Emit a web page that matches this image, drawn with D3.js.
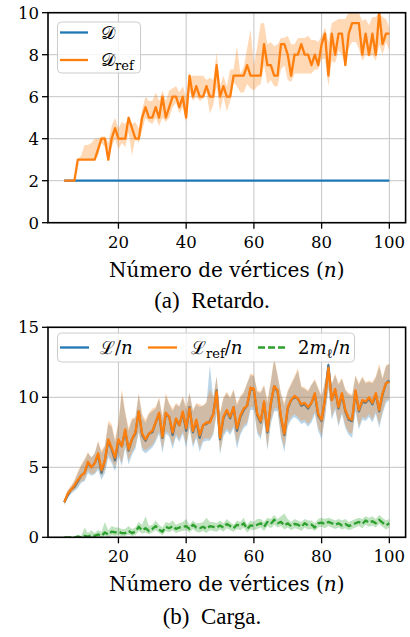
<!DOCTYPE html>
<html>
<head>
<meta charset="utf-8">
<script src="https://cdn.jsdelivr.net/npm/d3@7"></script>
<style>
body { margin: 0; background: #fff; }
text { fill: #000; }
.tick-label { font-family: "DejaVu Serif", serif; font-size: 16.5px; }
.axis-title { font-family: "DejaVu Serif", serif; font-size: 20px; }
.caption { font-family: "Liberation Serif", "Times New Roman", serif; font-size: 23px; }
.leg { font-family: "DejaVu Serif", serif; font-size: 18px; }
</style>
</head>
<body>
<script>
// number of vertices (x axis)
var vertices = d3.range(4, 101);

// (a) Retardo: D is flat, D_ref mean and its band
var delayD = 2;
var delayRef = [2,2,2,2,3,3,3,3,3,3, 3.5,4,4,3,4,4.5,4,4,4,5, 4.5,4,4,5,5.5,5,5,5.5,5,6,
  5,5.5,6,6,5.5,6,5,7,6,6.5, 6,6,6.5,6,6,7.5,6,6.5,6,6, 7,7,7,7,7.5,7,7,7,7,8.5,
  7.5,7.5,7,7,8.5,8.5,8,7,8,8, 8.5,8,8,7.5,8,7.5,8.5,9,7,9, 8,9,9,7.5,9,9.5,9.5,9.5,8,9,
  8,9,8,10,8.5,9,9];
var delayRefLo = [2,2,2,2,3,3,3,3,3,3, 3.2,3.8,3.6,3,3.6,4,3.5,3.8,3.6,4.3, 3.2,4,3.8,4.4,5,4.8,4.7,5,4.6,5,
  4.8,5,5.5,5.7,5.2,5.5,4.8,6.3,5.8,6, 5.8,5.9,6.2,5.2,5.6,6.5,5.3,6,5.3,5.8, 6.7,6.5,6.2,6.2,6.6,6.4,6.3,6.5,6.6,7.5,
  6.6,6.8,6.5,6.5,7.3,7.5,6.8,6.7,7.1,7.1, 7.1,7.1,7.1,7.1,7.3,7.3,7.8,7.8,6.5,7.7, 7.6,8.2,8,7.5,8.3,8.6,8.6,8.3,7.7,8,
  7.9,8,7.7,8.5,8,8.6,8.2];
var delayRefHi = [2,2,2,2,3,3.2,3.7,3.7,3.8,4, 4,4.1,4.1,3.8,4.6,5,4.5,4.8,4.7,5, 4.7,4.8,4.5,5.4,6,5.8,5.8,6.2,5.8,6.3,
  5.8,6.3,6.4,6.5,6.2,6.5,6,7,7,7, 7,7,6.8,6.9,6.8,8.1,6.5,7,6.5,7.3, 7.3,8.4,7.1,7.4,8.3,9.2,7.5,8.4,9.5,9.5,
  8.5,8.6,8.4,8.5,8.8,8.8,8.9,8.5,8.5,8.8, 8.8,8.8,8.9,8.7,8.7,8.6,8.9,9.3,8.6,9.5, 9.6,9.7,9.7,9.7,10,10,10,10,9.6,9.7,
  9.4,9.8,9.8,10,9.8,9.7,9.3];

// (b) Carga: L/n, L_ref/n, 2m_l/n with bands
var loadL = [2.5,3.0,3.4,3.6,4.0,4.4,4.6,5.3,5.0,5.3, 5.9,4.6,5.5,6.9,6.3,5.5,6.9,6.5,7.6,6.2,
  7.0,7.4,9.0,7.3,6.9,7.4,7.5,8.2,8.8,7.1, 8.8,8.6,7.3,8.4,8.0,8.9,7.6,9.3,7.5,8.3,
  7.1,8.0,8.1,8.3,8.8,10.5,7.0,8.5,9.0,8.5, 9.3,7.6,8.6,9.1,9.4,10.6,10.5,8.7,8.2,9.6,
  7.5,9.5,10.8,10.4,8.5,7.3,9.2,9.8,10.0,9.9, 9.4,9.5,9.2,9.6,10.2,8.7,8.3,9.9,12.3,9.8,
  10.5,9.2,10.2,9.0,8.4,8.3,10.4,9.0,9.7,9.6, 9.9,9.5,10.2,9.0,10.2,11.0,11.2];
var loadLLo = [2.3,2.8,3.1,3.3,3.5,3.9,4.0,4.6,4.4,4.5, 4.8,4.1,4.6,5.7,5.3,4.7,5.8,5.1,6.4,5.2,
  5.9,6.3,7.5,6.2,6.0,6.2,6.4,6.8,7.4,6.0, 7.4,7.2,6.3,7.2,6.8,7.4,6.4,7.8,6.4,7.1,
  6.1,6.8,6.9,6.9,7.3,8.8,5.9,7.2,7.6,7.3, 7.8,6.3,7.3,7.8,8.0,9.1,9.1,7.4,7.0,8.3,
  6.2,8.1,9.0,9.0,7.1,6.1,7.9,8.4,8.6,8.4, 8.1,8.2,7.9,8.2,8.8,7.6,7.0,8.5,10.6,8.4,
  9.1,7.9,8.8,7.8,7.3,7.1,9.0,7.7,8.4,8.3, 8.6,8.2,8.8,7.8,8.8,9.6,9.8];
var loadLHi = [2.7,3.3,3.6,4.0,4.6,5.1,5.5,6.0,5.7,6.0, 6.8,6.0,6.5,8.1,7.9,6.8,8.1,10.3,8.8,7.6,
  8.4,8.5,10.2,8.6,8.2,8.8,9.0,9.2,9.9,8.5, 10.1,9.5,9.0,9.5,9.3,10.0,9.1,10.3,9.0,9.5,
  9.3,9.4,9.6,12.3,9.9,11.5,8.8,9.9,10.3,9.9, 10.5,9.4,10.0,10.3,11.0,11.6,11.5,10.4,10.3,10.8,
  9.6,11.1,12.7,11.5,10.2,9.4,10.4,10.9,11.4,11.9, 10.7,10.6,10.4,10.9,11.2,10.6,10.0,11.1,12.6,10.9,
  11.6,10.9,11.3,10.5,10.2,10.1,11.5,10.9,11.4,11.0, 11.1,11.0,11.4,12.2,11.3,12.2,12.4];

var loadRef = [2.5,3.1,3.4,3.7,4.1,4.4,4.6,5.4,5.0,5.3, 6.0,4.8,5.5,7.0,6.4,5.7,7.0,6.5,7.7,6.3,
  7.0,7.5,9.0,7.4,7.0,7.4,7.6,8.2,8.9,7.2, 8.9,8.6,7.5,8.5,8.0,9.0,7.8,9.2,7.6,8.4,
  7.3,8.0,8.2,8.2,8.8,10.4,7.1,8.6,9.1,8.6, 9.3,7.8,8.7,9.2,9.4,10.7,10.6,8.8,8.3,9.7,
  7.6,9.6,10.8,10.5,8.6,7.4,9.3,9.8,10.1,9.9, 9.5,9.6,9.3,9.6,10.3,8.8,8.4,9.9,12.1,9.8,
  10.6,9.3,10.3,9.1,8.5,8.4,10.5,9.1,9.8,9.7, 10.0,9.6,10.3,9.1,10.3,11.0,11.1];
var loadRefLo = [2.3,2.9,3.2,3.4,3.7,4.0,4.1,4.8,4.5,4.6, 5.0,4.4,4.8,5.9,5.5,5.0,6.0,5.3,6.6,5.5,
  6.1,6.5,7.6,6.4,6.2,6.4,6.6,7.0,7.6,6.3, 7.6,7.4,6.6,7.4,7.0,7.6,6.7,7.9,6.6,7.3,
  6.4,7.0,7.1,7.0,7.5,9.0,6.1,7.4,7.8,7.5, 8.0,6.7,7.5,8.0,8.2,9.3,9.3,7.6,7.2,8.5,
  6.4,8.3,9.2,9.2,7.3,6.4,8.1,8.6,8.8,8.6, 8.3,8.4,8.1,8.4,9.0,7.8,7.3,8.7,10.8,8.6,
  9.3,8.1,9.0,8.0,7.5,7.4,9.2,7.9,8.6,8.5, 8.8,8.4,9.0,8.1,9.0,9.8,9.9];
var loadRefHi = [2.7,3.4,3.7,4.1,4.7,5.2,5.6,6.1,5.7,6.0, 6.9,6.2,6.6,8.3,8.1,7.0,8.3,10.6,9.0,7.8,
  8.5,8.6,10.3,8.8,8.4,8.9,9.2,9.3,10.0,8.7, 10.3,9.6,9.2,9.6,9.4,10.1,9.3,10.3,9.1,9.6,
  9.5,9.4,9.7,10.6,10.0,11.5,8.9,10.0,10.4,10.0, 10.6,9.6,10.1,10.4,11.0,11.7,11.6,10.5,10.4,10.9,
  9.8,11.2,12.9,11.6,10.3,9.6,10.5,11.0,11.5,12.1, 10.8,10.7,10.5,10.9,11.3,10.7,10.1,11.2,12.5,11.0,
  11.7,11.0,11.4,10.6,10.3,10.2,11.6,11.0,11.5,11.1, 11.2,11.1,11.5,12.4,11.4,12.3,12.4];

var loadM = [0,0,0,0,0.05,0,0.1,0.05,0.15,0.1, 0.2,0.1,0.35,0.2,0.4,0.35,0.4,0.3,0.3,0.45,
  0.3,0.4,0.75,0.5,0.65,0.45,0.6,0.8,0.55,0.4, 0.75,0.65,0.8,0.6,0.7,0.75,0.8,0.6,0.9,0.7,
  0.65,0.75,0.6,0.8,0.75,0.7,0.85,0.7,0.95,0.8, 0.65,0.9,0.8,1.0,0.6,0.85,0.8,0.9,1.0,0.75,
  1.1,0.95,1.25,1.0,1.1,0.85,1.0,0.8,0.95,0.9, 0.75,1.0,0.85,0.9,0.7,1.0,1.05,0.95,1.1,1.0,
  0.9,1.0,0.85,0.95,0.8,0.9,1.0,1.1,0.95,1.2, 1.05,1.15,1.0,1.25,1.05,0.85,1.0];
var loadMLo = [0,0,0,0,0,0,0,0,0,0, 0,0,0.1,0,0.15,0.1,0.15,0.1,0.1,0.2,
  0.1,0.15,0.45,0.25,0.35,0.2,0.35,0.5,0.3,0.15, 0.45,0.35,0.5,0.3,0.4,0.45,0.5,0.35,0.6,0.4,
  0.35,0.45,0.3,0.5,0.45,0.4,0.55,0.4,0.65,0.5, 0.4,0.6,0.5,0.7,0.35,0.55,0.5,0.6,0.7,0.45,
  0.8,0.65,0.9,0.7,0.8,0.55,0.7,0.5,0.65,0.6, 0.45,0.7,0.55,0.6,0.45,0.7,0.75,0.65,0.8,0.7,
  0.6,0.7,0.55,0.65,0.5,0.6,0.7,0.8,0.65,0.9, 0.75,0.85,0.7,0.95,0.75,0.55,0.7];
var loadMHi = [0,0,0,0,0.2,0.1,0.7,0.3,0.5,0.3, 0.5,0.4,1.1,0.5,0.8,0.7,0.7,0.6,0.6,0.8,
  0.6,0.7,1.1,0.9,1.5,0.8,0.9,1.2,0.9,0.7, 1.1,1.0,1.2,0.9,1.0,1.1,1.3,0.9,1.2,1.0,
  1.0,1.1,1.4,1.1,1.1,1.0,1.2,1.0,1.3,1.1, 0.9,1.2,1.1,1.4,0.9,1.2,1.1,1.3,1.3,1.1,
  1.4,1.3,1.6,1.3,1.5,1.7,1.3,1.1,1.3,1.2, 1.1,1.3,1.2,1.2,1.0,1.3,1.4,1.3,1.4,1.3,
  1.2,1.3,1.2,1.3,1.1,1.2,1.3,1.4,1.3,1.5, 1.4,1.5,1.3,1.6,1.4,1.2,1.3];

var xTicks = [20, 40, 60, 80, 100];
var yTicksA = [0, 2, 4, 6, 8, 10];
var yTicksB = [0, 5, 10, 15];

var blue = "#1f77b4", orange = "#ff7f0e", green = "#2ca02c";

var svg = d3.select("body").append("svg")
    .attr("width", 410)
    .attr("height", 637);

var x = d3.scaleLinear().domain([-0.8, 104.8]).range([48, 405.6]);

function panel(id, y, yTicks) {
  var g = svg.append("g");
  var top = y.range()[1], bottom = y.range()[0];

  g.append("clipPath").attr("id", id)
    .append("rect")
    .attr("x", x.range()[0]).attr("y", top)
    .attr("width", x.range()[1] - x.range()[0])
    .attr("height", bottom - top);

  // grid
  g.selectAll(".gx").data(xTicks).enter().append("line")
    .attr("x1", function(d) { return x(d); }).attr("x2", function(d) { return x(d); })
    .attr("y1", top).attr("y2", bottom)
    .style("stroke", "#c4c4c4").style("stroke-width", 1);
  g.selectAll(".gy").data(yTicks).enter().append("line")
    .attr("x1", x.range()[0]).attr("x2", x.range()[1])
    .attr("y1", function(d) { return y(d); }).attr("y2", function(d) { return y(d); })
    .style("stroke", "#c4c4c4").style("stroke-width", 1);

  var plot = g.append("g").attr("clip-path", "url(#" + id + ")");
  return { g: g, plot: plot, top: top, bottom: bottom };
}

function frame(p, y, yTicks) {
  var g = p.g;
  g.append("rect")
    .attr("x", x.range()[0]).attr("y", p.top)
    .attr("width", x.range()[1] - x.range()[0])
    .attr("height", p.bottom - p.top)
    .style("fill", "none").style("stroke", "#000").style("stroke-width", 1.6);

  g.selectAll(".tx").data(xTicks).enter().append("line")
    .attr("x1", function(d) { return x(d); }).attr("x2", function(d) { return x(d); })
    .attr("y1", p.bottom).attr("y2", p.bottom + 6)
    .style("stroke", "#000").style("stroke-width", 1.3);
  g.selectAll(".lx").data(xTicks).enter().append("text")
    .attr("class", "tick-label")
    .attr("x", function(d) { return x(d); })
    .attr("y", p.bottom + 25)
    .style("text-anchor", "middle")
    .text(function(d) { return d; });

  g.selectAll(".ty").data(yTicks).enter().append("line")
    .attr("x1", x.range()[0] - 6).attr("x2", x.range()[0])
    .attr("y1", function(d) { return y(d); }).attr("y2", function(d) { return y(d); })
    .style("stroke", "#000").style("stroke-width", 1.3);
  g.selectAll(".ly").data(yTicks).enter().append("text")
    .attr("class", "tick-label")
    .attr("x", x.range()[0] - 9)
    .attr("y", function(d) { return y(d); })
    .attr("dy", "0.36em")
    .style("text-anchor", "end")
    .text(function(d) { return d; });

  var t = g.append("text")
    .attr("class", "axis-title")
    .attr("x", (x.range()[0] + x.range()[1]) / 2)
    .attr("y", p.bottom + 54)
    .style("text-anchor", "middle");
  t.append("tspan").text("Número de vértices (");
  t.append("tspan").style("font-style", "italic").text("n");
  t.append("tspan").text(")");
}

function band(plot, y, lo, hi, color) {
  var area = d3.area()
    .x(function(d, i) { return x(vertices[i]); })
    .y0(function(d, i) { return y(lo[i]); })
    .y1(function(d, i) { return y(hi[i]); });
  plot.append("path").datum(lo)
    .attr("d", area)
    .style("fill", color).style("fill-opacity", 0.3).style("stroke", "none");
}

function line(plot, y, vals, color, dash) {
  var ln = d3.line()
    .x(function(d, i) { return x(vertices[i]); })
    .y(function(d) { return y(d); });
  plot.append("path").datum(vals)
    .attr("d", ln)
    .style("fill", "none").style("stroke", color)
    .style("stroke-width", 2.3)
    .style("stroke-linejoin", "round")
    .style("stroke-dasharray", dash || null);
}

// ---- (a) Retardo ----
var yA = d3.scaleLinear().domain([0, 10]).range([222.7, 12.7]);
var pA = panel("clipA", yA, yTicksA);
band(pA.plot, yA, delayRefLo, delayRefHi, orange);
line(pA.plot, yA, vertices.map(function() { return delayD; }), blue);
line(pA.plot, yA, delayRef, orange);
frame(pA, yA, yTicksA);

// legend (a)
var legA = svg.append("g");
legA.append("rect")
  .attr("x", 57.5).attr("y", 22).attr("width", 83).attr("height", 51).attr("rx", 4)
  .style("fill", "#fff").style("fill-opacity", 0.8)
  .style("stroke", "#cccccc").style("stroke-width", 1);
[[blue, 32.5], [orange, 60]].forEach(function(r, i) {
  legA.append("line")
    .attr("x1", 60).attr("x2", 88).attr("y1", r[1]).attr("y2", r[1])
    .style("stroke", r[0]).style("stroke-width", 2.3);
  var t = legA.append("text").attr("class", "leg")
    .attr("x", 101).attr("y", r[1] + 6);
  t.append("tspan").text("\uD835\uDC9F");
  if (i == 1) t.append("tspan").attr("dy", 4).style("font-size", "13px").text("ref");
});

svg.append("text").attr("class", "caption")
  .attr("x", 212).attr("y", 308)
  .style("text-anchor", "middle")
  .text("(a)\u2002Retardo.");

// ---- (b) Carga ----
var yB = d3.scaleLinear().domain([0, 15]).range([537.3, 327.3]);
var pB = panel("clipB", yB, yTicksB);
band(pB.plot, yB, loadLLo, loadLHi, blue);
line(pB.plot, yB, loadL, blue);
band(pB.plot, yB, loadRefLo, loadRefHi, orange);
line(pB.plot, yB, loadRef, orange);
band(pB.plot, yB, loadMLo, loadMHi, green);
line(pB.plot, yB, loadM, green, "7,3");
frame(pB, yB, yTicksB);

// legend (b)
var legB = svg.append("g");
legB.append("rect")
  .attr("x", 57.5).attr("y", 333).attr("width", 297).attr("height", 29).attr("rx", 4)
  .style("fill", "#fff").style("fill-opacity", 0.8)
  .style("stroke", "#cccccc").style("stroke-width", 1);
var itemsB = [
  {c: blue, x: 60, tx: 100, dash: null},
  {c: orange, x: 148, tx: 191, dash: null},
  {c: green, x: 258, tx: 298, dash: "7,3"}
];
itemsB.forEach(function(it, i) {
  legB.append("line")
    .attr("x1", it.x).attr("x2", it.x + 29).attr("y1", 347.5).attr("y2", 347.5)
    .style("stroke", it.c).style("stroke-width", 2.3)
    .style("stroke-dasharray", it.dash);
  var t = legB.append("text").attr("class", "leg").attr("x", it.tx).attr("y", 354);
  if (i == 0) {
    t.append("tspan").text("\u2112/");
    t.append("tspan").style("font-style", "italic").text("n");
  } else if (i == 1) {
    t.append("tspan").text("\u2112");
    t.append("tspan").attr("dy", 4).style("font-size", "13px").text("ref");
    t.append("tspan").attr("dy", -4).text("/");
    t.append("tspan").style("font-style", "italic").text("n");
  } else {
    t.append("tspan").text("2");
    t.append("tspan").style("font-style", "italic").text("m");
    t.append("tspan").attr("dy", 4).style("font-size", "13px").text("\u2113");
    t.append("tspan").attr("dy", -4).text("/");
    t.append("tspan").style("font-style", "italic").text("n");
  }
});

svg.append("text").attr("class", "caption")
  .attr("x", 212).attr("y", 624)
  .style("text-anchor", "middle")
  .text("(b)\u2002Carga.");
</script>
</body>
</html>
